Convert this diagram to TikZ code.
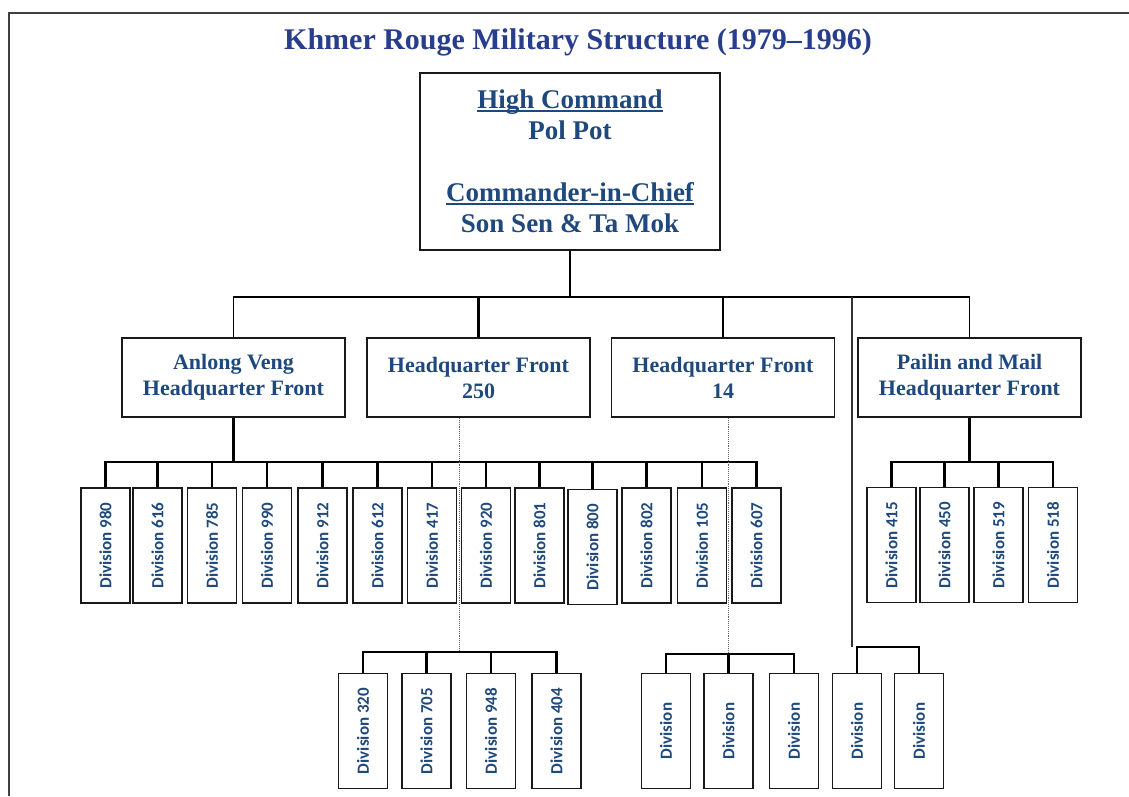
\documentclass[tikz,border=0pt]{standalone}
\usepackage{fontspec}
\usepackage{graphicx}
\setmainfont{Liberation Serif}
\newfontfamily\divfont{Carlito}
\definecolor{khtitle}{RGB}{40, 62, 140}
\definecolor{khblue}{RGB}{31, 73, 125}
\definecolor{khline}{RGB}{25, 25, 25}
\newcommand{\khul}[1]{\setbox0\hbox{#1}\rlap{\rule[-3.5pt]{\wd0}{1.8pt}}\box0}
\newcommand{\divlabel}[1]{\rotatebox{90}{\divfont\bfseries\fontsize{17}{20}\selectfont #1}}

\begin{document}
\begin{tikzpicture}[x=1pt,y=-1pt,
    topbox/.style={draw=khline, line width=1.9pt, minimum width=300pt, minimum height=177pt,
      inner sep=0pt, align=center, text=khblue, font=\bfseries\fontsize{27}{31}\selectfont},
    frontbox/.style={draw=khline, line width=1.9pt, minimum width=223pt, minimum height=79pt,
      inner sep=0pt, align=center, text=khblue, font=\bfseries\fontsize{22}{26}\selectfont},
    divbox/.style={draw=khline, line width=1.8pt, minimum width=49pt, minimum height=115pt,
      inner sep=0pt, text=khblue},
    conn/.style={draw=black, line width=2.2pt},
    thinconn/.style={draw=black!80, line width=1.3pt},
    dotconn/.style={draw=black!60, line width=0.9pt, densely dotted}]
        \useasboundingbox (0,0) rectangle (1129,796);
        \draw[line width=1.5pt, black!75] (1129,13) -- (9,13) -- (9,796);
        \node[text=khtitle, font=\bfseries\fontsize{30}{36}\selectfont] (title) at (578,42) {Khmer Rouge Military Structure (1979--1996)};

        \node[topbox] (cmd) at (570,161.5) {\khul{High Command}\\Pol Pot\\[31pt]\khul{Commander-in-Chief}\\Son Sen \& Ta Mok};

        \node[frontbox] (anlong) at (233.5,377.5) {Anlong Veng\\Headquarter Front};
        \node[frontbox] (hq250) at (478.5,377.5) {Headquarter Front\\250};
        \node[frontbox] (hq14) at (723,377.5) {Headquarter Front\\14};
        \node[frontbox] (pailin) at (969.5,377.5) {Pailin and Mail\\Headquarter Front};

        \node[divbox] (d980) at (105.5,545.5) {\divlabel{Division 980}};
        \node[divbox] (d616) at (157.5,545.5) {\divlabel{Division 616}};
        \node[divbox] (d785) at (212,545.5) {\divlabel{Division 785}};
        \node[divbox] (d990) at (267,545.5) {\divlabel{Division 990}};
        \node[divbox] (d912) at (322.5,545.5) {\divlabel{Division 912}};
        \node[divbox] (d612) at (377.5,545.5) {\divlabel{Division 612}};
        \node[divbox] (d417) at (432,545.5) {\divlabel{Division 417}};
        \node[divbox] (d920) at (486,545.5) {\divlabel{Division 920}};
        \node[divbox] (d801) at (539.5,545.5) {\divlabel{Division 801}};
        \node[divbox] (d800) at (592.5,547) {\divlabel{Division 800}};
        \node[divbox] (d802) at (646.5,545.5) {\divlabel{Division 802}};
        \node[divbox] (d105) at (702,545.5) {\divlabel{Division 105}};
        \node[divbox] (d607) at (756.5,545.5) {\divlabel{Division 607}};

        \node[divbox] (d415) at (891.5,545) {\divlabel{Division 415}};
        \node[divbox] (d450) at (944.5,545) {\divlabel{Division 450}};
        \node[divbox] (d519) at (998.5,545) {\divlabel{Division 519}};
        \node[divbox] (d518) at (1053,545) {\divlabel{Division 518}};

        \node[divbox] (d320) at (363,731) {\divlabel{Division 320}};
        \node[divbox] (d705) at (426.5,731) {\divlabel{Division 705}};
        \node[divbox] (d948) at (491,731) {\divlabel{Division 948}};
        \node[divbox] (d404) at (556.5,731) {\divlabel{Division 404}};

        \node[divbox] (dva) at (666,731) {\divlabel{Division}};
        \node[divbox] (dvb) at (728.5,731) {\divlabel{Division}};
        \node[divbox] (dvc) at (794,731) {\divlabel{Division}};
        \node[divbox] (dvd) at (857,731) {\divlabel{Division}};
        \node[divbox] (dve) at (919,731) {\divlabel{Division}};

        \coordinate (bus1) at (0,297);
        \coordinate (bus2) at (0,462);
        \coordinate (bus3) at (0,652);
        \coordinate (bus4) at (0,654);
        \coordinate (bus5) at (0,647);
        \coordinate (split) at (852,297);

        \draw[conn] (cmd.south) -- (cmd.south |- bus1);
        \draw[conn, line width=1.7pt] (anlong.north) -- (anlong.north |- bus1) -- (pailin.north |- bus1) -- (pailin.north);
        \draw[conn] (hq250.north) -- (hq250.north |- bus1);
        \draw[conn] (hq14.north) -- (hq14.north |- bus1);

        \draw[conn] (anlong.south) -- (anlong.south |- bus2);
        \draw[conn] (d980.north) -- (d980.north |- bus2) -- (d607.north |- bus2) -- (d607.north);
        \draw[conn] (d616.north) -- (d616.north |- bus2) (d785.north) -- (d785.north |- bus2)
            (d990.north) -- (d990.north |- bus2) (d912.north) -- (d912.north |- bus2)
            (d612.north) -- (d612.north |- bus2) (d417.north) -- (d417.north |- bus2)
            (d920.north) -- (d920.north |- bus2) (d801.north) -- (d801.north |- bus2)
            (d800.north) -- (d800.north |- bus2) (d802.north) -- (d802.north |- bus2)
            (d105.north) -- (d105.north |- bus2);

        \draw[conn] (pailin.south) -- (pailin.south |- bus2);
        \draw[conn] (d415.north) -- (d415.north |- bus2) -- (d518.north |- bus2) -- (d518.north);
        \draw[conn] (d450.north) -- (d450.north |- bus2) (d519.north) -- (d519.north |- bus2);

        \draw[dotconn] ([xshift=-19.5pt]hq250.south) -- ([xshift=-19.5pt]hq250.south |- bus3);
        \draw[conn] (d320.north) -- (d320.north |- bus3) -- (d404.north |- bus3) -- (d404.north);
        \draw[conn] (d705.north) -- (d705.north |- bus3) (d948.north) -- (d948.north |- bus3);

        \draw[dotconn] ([xshift=5pt]hq14.south) -- ([xshift=5pt]hq14.south |- bus4);
        \draw[conn] (dva.north) -- (dva.north |- bus4) -- (dvc.north |- bus4) -- (dvc.north);
        \draw[conn] (dvb.north) -- (dvb.north |- bus4);

        \draw[thinconn] (split) -- (split |- bus5);
        \draw[conn] (dvd.north) -- (dvd.north |- bus5) -- (dve.north |- bus5) -- (dve.north);
\end{tikzpicture}
\end{document}
